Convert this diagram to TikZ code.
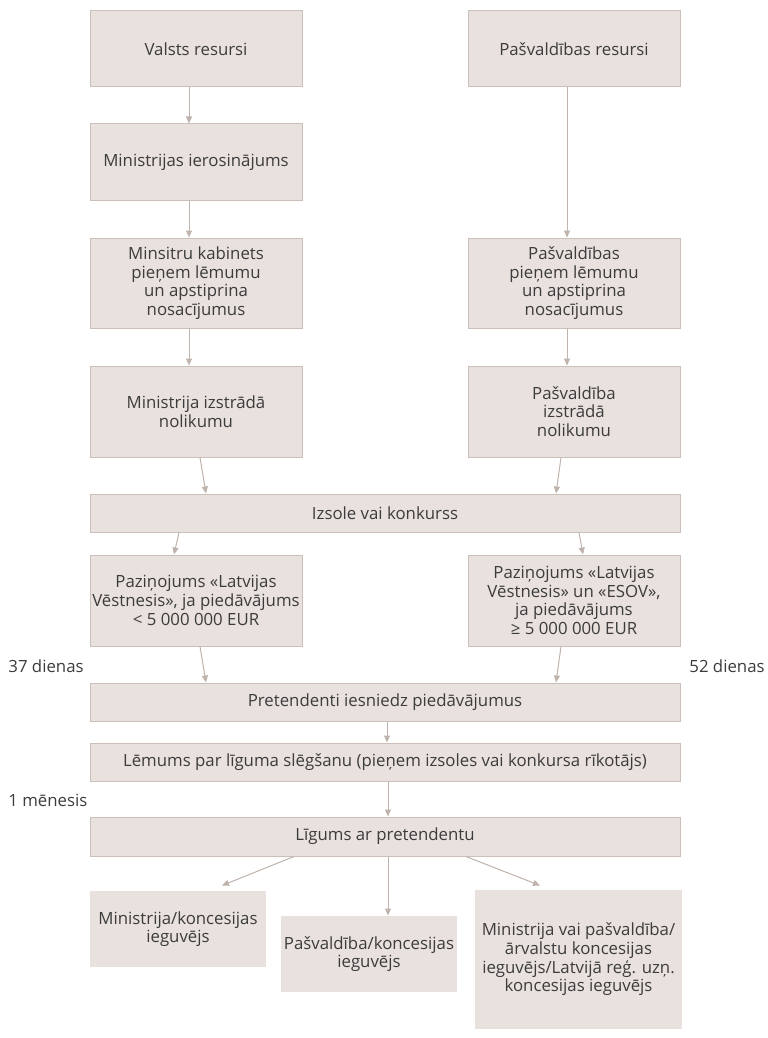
\documentclass[tikz,border=0pt]{standalone}
\usepackage{fontspec}
\setmainfont{Open Sans}
\usepackage{tikz}
\usetikzlibrary{arrows.meta}
\definecolor{boxfill}{HTML}{E8E1DE}
\definecolor{boxline}{HTML}{CBBFBA}
\definecolor{arrowc}{HTML}{BFB3AD}
\definecolor{txt}{HTML}{3C3C3C}
\newcommand{\fs}{\fontsize{8.4}{9.35}\selectfont\lineskiplimit=-5pt\lineskip=0pt}

\begin{document}
\begin{tikzpicture}[x=0.5pt, y=-0.5pt,
    box style/.style={draw=boxline, line width=0.5pt, fill=boxfill, text=txt, align=center, inner sep=0pt, minimum width=106pt, font=\fs},
    wide style/.style={box style, minimum width=295pt, minimum height=19pt},
    leaf style/.style={box style, draw=none, minimum width=88pt, minimum height=38pt},
    arrow style/.style={-{Triangle[length=3.5pt,width=3pt]}, draw=arrowc, line width=0.5pt},
    note style/.style={text=txt, font=\fs, anchor=west, inner sep=0pt}
]
\useasboundingbox (0,0) rectangle (767,1038);
% state side
\node[box style, minimum height=38pt] (vr) at (196,49) {Valsts resursi};
\node[box style, minimum height=38pt] (mi) at (196,162) {Ministrijas ierosinājums};
\node[box style, minimum height=45pt] (mk) at (196,283) {Minsitru kabinets\\pieņem lēmumu\\un apstiprina\\nosacījumus};
\node[box style, minimum height=45.5pt] (mn) at (196,411.5) {Ministrija izstrādā\\nolikumu};
% municipal side
\node[box style, minimum height=38pt] (pr) at (574,49) {Pašvaldības resursi};
\node[box style, minimum height=45pt] (pp) at (574,283) {Pašvaldības\\pieņem lēmumu\\un apstiprina\\nosacījumus};
\node[box style, minimum height=45.5pt] (pn) at (574,411.5) {Pašvaldība\\izstrādā\\nolikumu};
% common part
\node[wide style] (izs) at (385,513) {Izsole vai konkurss};
\node[box style, minimum height=45.5pt] (pzl) at (196,600.5) {Paziņojums «Latvijas\\Vēstnesis», ja piedāvājums\\< 5 000 000 EUR};
\node[box style, minimum height=45.5pt] (pzr) at (574,600.5) {Paziņojums «Latvijas\\Vēstnesis» un «ESOV»,\\ja piedāvājums\\≥ 5 000 000 EUR};
\node[wide style] (pret) at (385,702) {Pretendenti iesniedz piedāvājumus};
\node[wide style] (lem) at (385,762) {Lēmums par līguma slēgšanu (pieņem izsoles vai konkursa rīkotājs)};
\node[wide style, minimum height=19.5pt] (lig) at (385,836.5) {Līgums ar pretendentu};
\node[leaf style] (bl) at (178,929) {Ministrija/koncesijas\\ieguvējs};
\node[leaf style] (bm) at (369,954) {Pašvaldība/koncesijas\\ieguvējs};
\node[leaf style, minimum width=103.5pt, minimum height=69.5pt] (br) at (578.5,959.5) {Ministrija vai pašvaldība/\\ārvalstu koncesijas\\ieguvējs/Latvijā reģ. uzņ.\\koncesijas ieguvējs};
% time notes
\node[note style] (d37) at (8,666) {37 dienas};
\node[note style] (d52) at (689,666) {52 dienas};
\node[note style] (m1) at (8,800) {1 mēnesis};

\draw[arrow style] ([xshift=-3.5pt]vr.south) -- ([xshift=-3.5pt]mi.north);
\draw[arrow style] ([xshift=-3.5pt]mi.south) -- ([xshift=-3.5pt]mk.north);
\draw[arrow style] ([xshift=-3.5pt]mk.south) -- ([xshift=-3.5pt]mn.north);
\draw[arrow style] ([xshift=-3.5pt]pr.south) -- ([xshift=-3.5pt]pp.north);
\draw[arrow style] ([xshift=-3.5pt]pp.south) -- ([xshift=-3.5pt]pn.north);
\draw[arrow style] ([xshift=2pt]mn.south) -- ([xshift=-89.5pt]izs.north);
\draw[arrow style] ([xshift=-6.5pt]pn.south) -- ([xshift=85.5pt]izs.north);
\draw[arrow style] ([xshift=-103pt]izs.south) -- ([xshift=-11pt]pzl.north);
\draw[arrow style] ([xshift=97pt]izs.south) -- ([xshift=4.5pt]pzr.north);
\draw[arrow style] ([xshift=2pt]pzl.south) -- ([xshift=-89.5pt]pret.north);
\draw[arrow style] ([xshift=-6.5pt]pzr.south) -- ([xshift=85.5pt]pret.north);
\draw[arrow style] ([xshift=1pt]pret.south) -- ([xshift=1pt]lem.north);
\draw[arrow style] ([xshift=1.5pt]lem.south) -- ([xshift=1.5pt]lig.north);
\draw[arrow style] ([xshift=-45.5pt]lig.south) -- ([xshift=22pt,yshift=2.5pt]bl.north);
\draw[arrow style] ([xshift=1.5pt]lig.south) -- ([xshift=9.5pt]bm.north);
\draw[arrow style] ([xshift=40.5pt]lig.south) -- ([xshift=-19.25pt,yshift=2pt]br.north);
\end{tikzpicture}
\end{document}
